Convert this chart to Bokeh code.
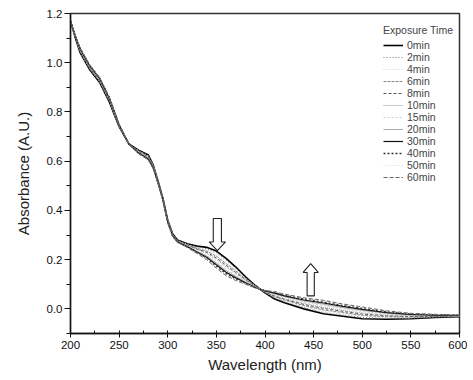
from bokeh.plotting import figure
from bokeh.models import FixedTicker, PrintfTickFormatter, Legend, LegendItem, Range1d
from bokeh.embed import file_html
from bokeh.resources import INLINE

wavelength = [200, 205, 210, 220, 230, 240, 250, 260, 270, 280, 285, 290, 295, 300, 305, 310,
              320, 330, 340, 350, 360, 370, 380, 390, 400, 410, 420, 440, 460, 480, 500, 525,
              550, 575, 600]

t0 = [1.17, 1.10, 1.04, .97, .92, .84, .74, .67, .645, .625, .585, .52, .45, .36, .305, .28, .265, .255, .25, .235, .205, .17, .13, .095, .065, .04, .025, 0, -.02, -.03, -.04, -.042, -.04, -.035, -.032]
t2 = [1.17, 1.101, 1.042, .972, .922, .842, .741, .67, .644, .623, .584, .519, .449, .359, .304, .279, .264, .252, .245, .228, .198, .165, .127, .094, .066, .043, .029, .005, -.015, -.025, -.035, -.039, -.038, -.034, -.031]
t4 = [1.17, 1.102, 1.044, .974, .924, .844, .742, .67, .642, .621, .582, .518, .448, .358, .303, .278, .262, .249, .24, .221, .191, .159, .124, .093, .067, .046, .032, .009, -.009, -.02, -.03, -.035, -.036, -.032, -.031]
t6 = [1.17, 1.103, 1.046, .976, .926, .846, .743, .67, .641, .619, .581, .517, .447, .357, .302, .277, .261, .246, .235, .214, .184, .154, .121, .092, .068, .049, .036, .014, -.004, -.015, -.026, -.032, -.033, -.031, -.03]
t8 = [1.17, 1.104, 1.048, .978, .928, .848, .744, .67, .639, .617, .579, .516, .446, .356, .301, .276, .259, .243, .23, .207, .177, .148, .118, .091, .069, .052, .039, .018, .002, -.01, -.021, -.028, -.031, -.03, -.029]
t10 = [1.17, 1.105, 1.05, .98, .93, .85, .745, .67, .638, .615, .578, .515, .445, .355, .30, .275, .258, .241, .226, .201, .171, .144, .116, .09, .07, .054, .042, .022, .006, -.006, -.017, -.026, -.029, -.029, -.029]
t15 = [1.17, 1.106, 1.052, .982, .932, .852, .746, .67, .636, .613, .576, .514, .444, .354, .299, .274, .256, .237, .22, .193, .163, .137, .112, .089, .071, .058, .046, .027, .013, 0, -.011, -.022, -.027, -.027, -.028]
t20 = [1.17, 1.107, 1.054, .984, .934, .854, .747, .67, .635, .611, .575, .513, .443, .353, .298, .273, .255, .234, .215, .186, .156, .132, .109, .088, .072, .061, .05, .032, .019, .005, -.006, -.018, -.025, -.026, -.027]
t30 = [1.17, 1.108, 1.056, .986, .936, .856, .748, .67, .633, .609, .573, .512, .442, .352, .297, .272, .253, .231, .21, .179, .149, .126, .106, .087, .073, .064, .053, .036, .024, .01, -.002, -.015, -.022, -.025, -.026]
t40 = [1.17, 1.109, 1.058, .988, .938, .858, .749, .67, .632, .607, .572, .511, .441, .351, .296, .271, .252, .229, .206, .173, .143, .122, .104, .086, .074, .066, .056, .04, .028, .014, .002, -.012, -.021, -.024, -.026]
t50 = [1.17, 1.11, 1.059, .989, .939, .859, .75, .67, .631, .606, .571, .51, .44, .35, .295, .27, .251, .227, .203, .168, .138, .118, .102, .086, .075, .069, .058, .043, .032, .018, .006, -.01, -.019, -.023, -.025]
t60 = [1.17, 1.11, 1.06, .99, .94, .86, .75, .67, .63, .605, .57, .51, .44, .35, .295, .27, .25, .225, .20, .165, .135, .115, .10, .085, .075, .07, .06, .045, .035, .02, .008, -.008, -.018, -.022, -.025]

labels = ["0min", "2min", "4min", "6min", "8min", "10min", "15min", "20min", "30min", "40min", "50min", "60min"]
series = [t0, t2, t4, t6, t8, t10, t15, t20, t30, t40, t50, t60]

x_ticks = [200, 250, 300, 350, 400, 450, 500, 550, 600]
y_ticks = [0.0, 0.2, 0.4, 0.6, 0.8, 1.0, 1.2]

styles = [
    ("#000000", 1.6, "solid"),
    ("#777777", 1.0, "1 2"),
    ("#cccccc", 1.0, "1 2"),
    ("#888888", 1.0, "3 1"),
    ("#555555", 1.0, "3 2"),
    ("#999999", 1.0, "1 1"),
    ("#d0d0d0", 1.0, "2 2"),
    ("#aaaaaa", 1.0, "solid"),
    ("#111111", 1.2, "solid"),
    ("#333333", 1.3, "2 2"),
    ("#d5d5d5", 1.0, "1 2"),
    ("#666666", 1.0, "4 2"),
]

p = figure(frame_width=389, frame_height=320, output_backend="svg", toolbar_location=None,
           x_range=Range1d(200, 600), y_range=Range1d(-0.1, 1.2),
           min_border_left=70, min_border_top=13, min_border_right=8, min_border_bottom=38)
p.background_fill_color = "white"
p.border_fill_color = "white"
p.grid.visible = False
p.outline_line_color = "#333333"
p.outline_line_width = 1.5

items = []
for lab, ys, (c, w, d) in zip(labels, series, styles):
    r = p.line(wavelength, ys, line_color=c, line_width=w, line_dash=d)
    items.append(LegendItem(label=lab, renderers=[r]))

# hollow arrows: (center wl, tail y, tip y, head base y, shaft half width, head half width)
arrow_down = (351, 0.367, 0.237, 0.272, 4.2, 8.4)
arrow_up = (447, 0.053, 0.184, 0.148, 3.7, 7.8)
for cx, ytail, ytip, ybase, sh, hh in [arrow_down, arrow_up]:
    xs = [cx - sh, cx + sh, cx + sh, cx + hh, cx, cx - hh, cx - sh]
    ys = [ytail, ytail, ybase, ybase, ytip, ybase, ybase]
    p.patch(xs, ys, fill_color="white", line_color="#222222", line_width=1.1)

p.xaxis.ticker = FixedTicker(ticks=x_ticks, minor_ticks=list(range(200, 601, 25)))
p.yaxis.ticker = FixedTicker(ticks=y_ticks, minor_ticks=[-0.1, 0.1, 0.3, 0.5, 0.7, 0.9, 1.1])
p.yaxis.formatter = PrintfTickFormatter(format="%.1f")

for ax in (p.xaxis, p.yaxis):
    ax.axis_line_color = "#111111"
    ax.axis_line_width = 1.3
    ax.major_tick_line_color = "#111111"
    ax.minor_tick_line_color = "#111111"
    ax.major_label_text_font = "Liberation Sans"
    ax.major_label_text_font_size = "11.5px"
    ax.major_label_text_color = "#111111"
    ax.axis_label_text_font = "Liberation Sans"
    ax.axis_label_text_font_size = "15px"
    ax.axis_label_text_font_style = "normal"
    ax.axis_label_text_color = "#222222"

p.xaxis.major_tick_out = 4
p.xaxis.major_tick_in = 1
p.xaxis.minor_tick_out = 0
p.xaxis.minor_tick_in = 3
p.xaxis.major_label_standoff = 3
p.xaxis.axis_label = "Wavelength (nm)"
p.xaxis.axis_label_standoff = 4

p.yaxis.major_tick_out = 6
p.yaxis.major_tick_in = 0
p.yaxis.minor_tick_out = 4
p.yaxis.minor_tick_in = 0
p.yaxis.major_label_standoff = 2
p.yaxis.axis_label = "Absorbance (A.U.)"
p.yaxis.axis_label_standoff = 12

legend = Legend(items=items, location=(313, 150), title="Exposure Time")
legend.border_line_color = None
legend.background_fill_alpha = 0
legend.padding = 0
legend.margin = 0
legend.spacing = 0
legend.glyph_width = 20
legend.glyph_height = 12
legend.label_height = 12
legend.label_standoff = 4
legend.label_text_font = "Liberation Sans"
legend.label_text_font_size = "10.5px"
legend.title_text_font = "Liberation Sans"
legend.title_text_font_size = "10.5px"
legend.title_text_font_style = "normal"
legend.title_standoff = 3
p.add_layout(legend)

open("out.html", "w").write(file_html(p, INLINE))
